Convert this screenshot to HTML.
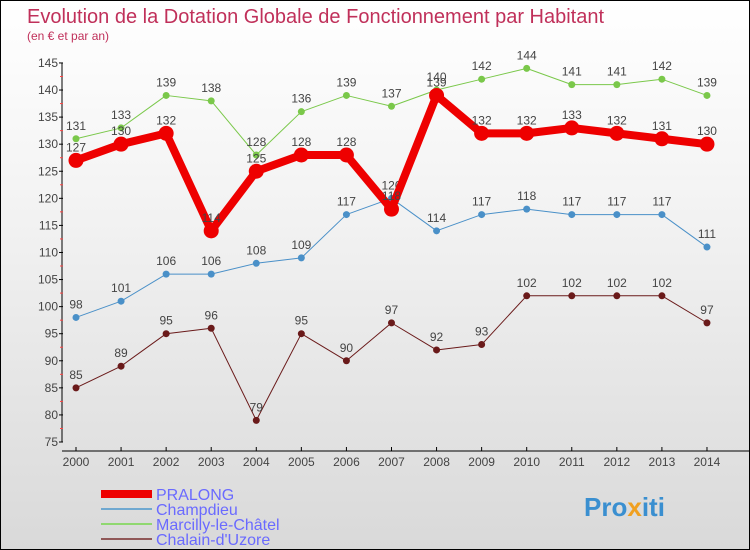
<!DOCTYPE html>
<html><head><meta charset="utf-8"><style>
body{margin:0}
#c{width:748px;height:548px;border:1px solid #000;background:linear-gradient(#fff 0%,#f2f2f2 40%,#d9d9d9 100%);position:relative;font-family:"Liberation Sans",sans-serif;overflow:hidden}
</style></head><body>
<div id="c">
<svg id="s" width="748" height="548" xmlns="http://www.w3.org/2000/svg">
<text x="26" y="22" font-size="20" fill="#c0305a">Evolution de la Dotation Globale de Fonctionnement par Habitant</text>
<text x="26" y="39" font-size="12" fill="#c0305a">(en € et par an)</text>
<g id="axes"></g><g id="series"></g>
<g>
<rect x="100" y="489" width="51" height="8" fill="#e00"/>
<text x="155" y="499" font-size="16" fill="#6a6aff">PRALONG</text>
<rect x="100" y="507" width="51" height="2" fill="#6fa8d0"/>
<text x="155" y="514" font-size="16" fill="#6a6aff">Champdieu</text>
<rect x="100" y="522" width="51" height="2" fill="#90d870"/>
<text x="155" y="529" font-size="16" fill="#6a6aff">Marcilly-le-Châtel</text>
<rect x="100" y="537" width="51" height="2" fill="#905858"/>
<text x="155" y="544" font-size="16" fill="#6a6aff">Chalain-d'Uzore</text>
</g>
<text x="583" y="515" font-size="26" font-weight="bold" fill="#3a8fd0">Pro<tspan fill="#f0a020">x</tspan>iti</text>
</svg></div>
<script>
const years=[2000,2001,2002,2003,2004,2005,2006,2007,2008,2009,2010,2011,2012,2013,2014];
const pralong=[127,130,132,114,125,128,128,118,139,132,132,133,132,131,130];
const champdieu=[98,101,106,106,108,109,117,120,114,117,118,117,117,117,111];
const marcilly=[131,133,139,138,128,136,139,137,140,142,144,141,141,142,139];
const chalain=[85,89,95,96,79,95,90,97,92,93,102,102,102,102,97];
const yTicks=[75,80,85,90,95,100,105,110,115,120,125,130,135,140,145];
const NS="http://www.w3.org/2000/svg";
const X=i=>75+i*45.07, Y=v=>441-(v-75)*5.415;
function mk(t,a,p){const e=document.createElementNS(NS,t);for(const k in a)e.setAttribute(k,a[k]);p.appendChild(e);return e;}
const ax=document.getElementById('axes'), se=document.getElementById('series');
let l=mk('line',{x1:61,y1:Y(145),x2:61,y2:Y(75),stroke:'#000'},ax);

l=mk('line',{x1:61,y1:450,x2:748,y2:450,stroke:'#000'},ax);

yTicks.forEach(v=>{mk('line',{x1:58,y1:Y(v),x2:62,y2:Y(v),stroke:'#000'},ax);
 if(v<145)mk('line',{x1:59,y1:Y(v+2.5),x2:62,y2:Y(v+2.5),stroke:'#f44'},ax);
 const t=mk('text',{x:57,y:Y(v)+4,'font-size':12,'text-anchor':'end',fill:'#444'},ax);t.textContent=v;
 });
years.forEach((y,i)=>{mk('line',{x1:X(i),y1:446,x2:X(i),y2:450,stroke:'#000'},ax);
 const t=mk('text',{x:X(i),y:465,'font-size':12,'text-anchor':'middle',fill:'#444'},ax);t.textContent=y;
 });
function series(d,col,w,r,name){const g=mk('g',{},se);
 
 mk('polyline',{points:d.map((v,i)=>X(i)+','+Y(v)).join(' '),fill:'none',stroke:col,'stroke-width':w,'stroke-linejoin':'round'},g);
 d.forEach((v,i)=>{const c=mk('circle',{cx:X(i),cy:Y(v),r:r,fill:col},g);
  
  const t=mk('text',{x:X(i),y:Y(v)-9,'font-size':12,'text-anchor':'middle',fill:'#444'},g);t.textContent=v;
  });}
series(chalain,'#6a1a1a',1,3.5,'chalain');
series(champdieu,'#4a90c8',1,3.5,'champdieu');
series(marcilly,'#7ac84a',1,3.5,'marcilly');
series(pralong,'#e00',8,7.5,'pralong');
</script></body></html>
